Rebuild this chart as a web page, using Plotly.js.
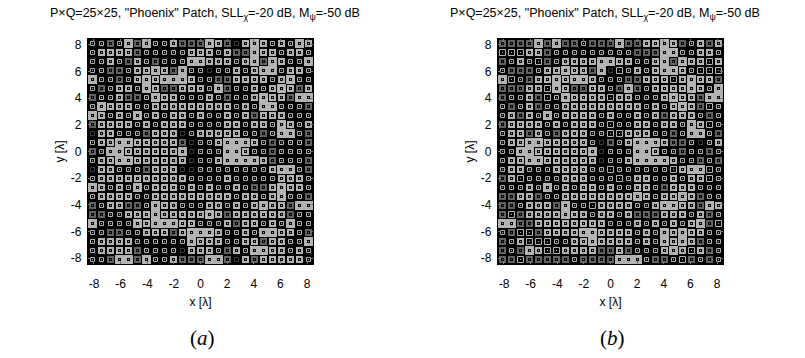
<!DOCTYPE html>
<html>
<head>
<meta charset="utf-8">
<script src="https://cdn.plot.ly/plotly-3.0.1.min.js"></script>
<style>html,body{margin:0;padding:0;background:#fff;}#chart{width:805px;height:358px;}</style>
</head>
<body>
<div id="chart"></div>
<script>
// ---- data ----
const N = 25;                       // P = Q = 25 elements
const halfSpan = 8.45;              // aperture half-size [lambda]
const axisTicks = [-8, -6, -4, -2, 0, 2, 4, 6, 8];
const titleText = 'P\u00d7Q=25\u00d725, "Phoenix" Patch, SLL<sub>\u03c7</sub>=-20 dB, M<sub>\u03c8</sub>=-50 dB';
const panelLabels = ['(<i>a</i>)', '(<i>b</i>)'];
// cell state per element, top row first (0 dark, 1 grey, 2 small ring, 3 ring, 4 large patch, 5 open ring)
const cellsA = [
"2212414223111431034323243",
"2333312222233323114332332",
"2232132122244333234143224",
"2211233431422022323442332",
"4221234344432211333323422",
"2123324311333241223234313",
"1223112433222321223433144",
"2433322333333333232442221",
"4323242323323223231333222",
"1333323233322223323324323",
"0332221333023333322124421",
"2334433333102234443212221",
"1244333333402224432212222",
"2334433333302234444312221",
"0332221333002222222234421",
"2333333333322223222223332",
"4323242333232322321134332",
"2333322333333333233234221",
"1233112433222332323433144",
"1122333433333431333333122",
"4222243444332223133232422",
"2211223331344432232443321",
"2333322222243332233133224",
"2333312222033321324433232",
"2214414223111441031333332"
];
const cellsB = [
"1111414112111411334312313",
"5553312222222221114422332",
"1232512333344332234143353",
"2111233433140523234432555",
"4521334344322211333534331",
"1113354311332141233334324",
"1223152433335332223433144",
"2123122333333333232343152",
"2313242333323223231333212",
"1333323233325223323324352",
"2331321333225533322124421",
"2334433333201234443112023",
"2244333333402224432212212",
"2334433333302234444322121",
"2332223333225222222534452",
"1352222333222523322323352",
"2223242323323223321333222",
"1133122333333334323343122",
"1123331422533332234433143",
"1513333433233231113332312",
"4411333333332223232323415",
"2155133334433332324343322",
"1235552233433332324343122",
"1214355333311312223435312",
"1151111121111444211251212"
];

// ---- styles per state (pixel sizes chosen to land on whole pixels) ----
const SIZE = [4, 5, 4, 5, 6, 6];
const LW   = [1, 2, 1, 2, 3, 1];
const LC   = ['#505050', '#8c8c8c', '#ffffff', '#ffffff', '#ffffff', '#ffffff'];
const DOT  = [0, 1, 1, 1, 1, 1];
const DOTC = ['#000000', '#8c8c8c', '#ffffff', '#ffffff', '#ffffff', '#ffffff'];

const pitch = 2 * halfSpan / N;
function build(rows, xa, ya) {
  const x = [], y = [], s = [];
  rows.forEach((row, r) => {
    for (let c = 0; c < N; c++) {
      x.push(-halfSpan + pitch * (c + 0.5));
      y.push(halfSpan - pitch * (r + 0.5));
      s.push(parseInt(row[c] || '0', 10));
    }
  });
  return [
    {type: 'scatter', mode: 'markers', x: x, y: y, xaxis: xa, yaxis: ya, hoverinfo: 'skip',
     marker: {symbol: 'square', color: '#000', size: s.map(v => SIZE[v]),
              line: {color: s.map(v => LC[v]), width: s.map(v => LW[v])}}},
    {type: 'scatter', mode: 'markers', x: x, y: y, xaxis: xa, yaxis: ya, hoverinfo: 'skip',
     marker: {symbol: 'square', size: s.map(v => DOT[v]), color: s.map(v => DOTC[v]), line: {width: 0}}}
  ];
}

const traces = [].concat(build(cellsA, 'x', 'y'), build(cellsB, 'x2', 'y2'));

const tickFont = {family: 'Liberation Sans', size: 12, color: '#000'};
function ax(extra) {
  return Object.assign({
    range: [-halfSpan, halfSpan], tickvals: axisTicks, ticktext: axisTicks.map(String),
    ticks: 'inside', ticklen: 3, tickcolor: '#777', mirror: 'ticks',
    showline: true, linecolor: '#000', linewidth: 1.2,
    showgrid: false, zeroline: false, tickfont: tickFont, fixedrange: true
  }, extra);
}
const yDom = [1 - 264 / 358, 1 - 39 / 358];
const layout = {
  width: 805, height: 358, showlegend: false,
  margin: {l: 0, r: 0, t: 0, b: 0},
  paper_bgcolor: '#fff', plot_bgcolor: '#000',
  xaxis:  ax({domain: [88 / 805, 313 / 805], anchor: 'y',  ticklabelstandoff: 8, title: {text: 'x [\u03bb]', font: tickFont, standoff: 8}}),
  yaxis:  ax({domain: yDom, anchor: 'x', ticklabelstandoff: 3, title: {text: 'y [\u03bb]', font: tickFont, standoff: 3}}),
  xaxis2: ax({domain: [498 / 805, 723 / 805], anchor: 'y2', ticklabelstandoff: 8, title: {text: 'x [\u03bb]', font: tickFont, standoff: 8}}),
  yaxis2: ax({domain: yDom, anchor: 'x2', ticklabelstandoff: 3, title: {text: 'y [\u03bb]', font: tickFont, standoff: 3}}),
  annotations: [
    {xref: 'paper', yref: 'paper', x: 205 / 805, y: 1 - 14 / 358, text: titleText, showarrow: false,
     xanchor: 'center', yanchor: 'middle', font: {family: 'Liberation Sans', size: 12.5, color: '#000'}},
    {xref: 'paper', yref: 'paper', x: 605 / 805, y: 1 - 14 / 358, text: titleText, showarrow: false,
     xanchor: 'center', yanchor: 'middle', font: {family: 'Liberation Sans', size: 12.5, color: '#000'}},
    {xref: 'paper', yref: 'paper', x: 202 / 805, y: 1 - 338 / 358, text: panelLabels[0], showarrow: false,
     xanchor: 'center', yanchor: 'middle', font: {family: 'Liberation Serif', size: 21, color: '#000'}},
    {xref: 'paper', yref: 'paper', x: 612 / 805, y: 1 - 338 / 358, text: panelLabels[1], showarrow: false,
     xanchor: 'center', yanchor: 'middle', font: {family: 'Liberation Serif', size: 21, color: '#000'}}
  ]
};
Plotly.newPlot('chart', traces, layout, {staticPlot: true, displayModeBar: false});
</script>
</body>
</html>
